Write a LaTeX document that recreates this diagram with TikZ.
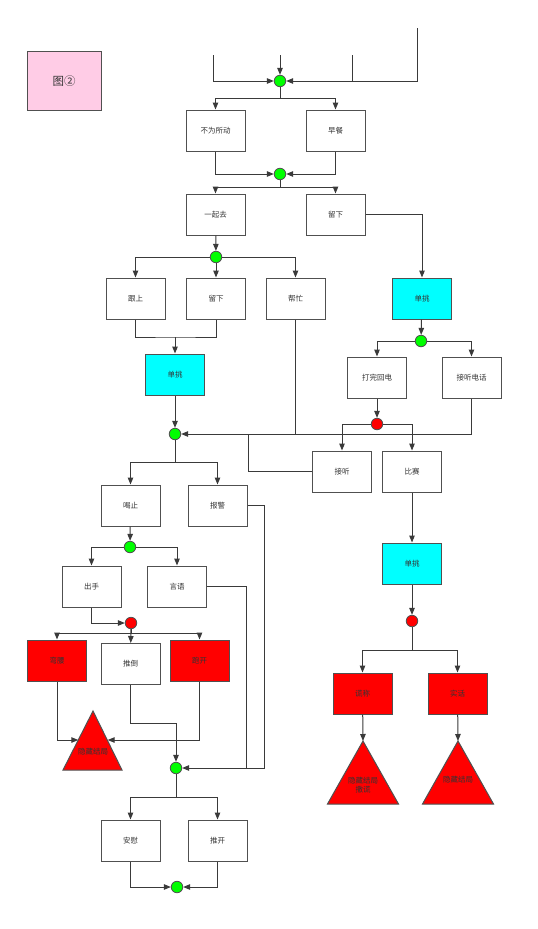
\documentclass[tikz,border=0pt]{standalone}
\usepackage{fontspec}
\newfontfamily\cjk{Noto Sans CJK SC}
\usetikzlibrary{arrows.meta}
\definecolor{cline}{HTML}{3A3A3A}
\definecolor{cbord}{HTML}{505050}
\definecolor{ctext}{HTML}{333333}
\definecolor{cpink}{HTML}{FFCCE6}
\definecolor{ccyan}{HTML}{00FFFF}
\definecolor{cgreen}{HTML}{00FF00}
\definecolor{cred}{HTML}{FF0000}
\begin{document}
\begin{tikzpicture}[x=1pt,y=-1pt,
  box/.style={draw=cbord, line width=1pt, fill=white, minimum width=59pt, minimum height=41pt, inner sep=0pt, font=\cjk\fontsize{7.5}{9}\selectfont, text=ctext},
  cyanbox/.style={box, fill=ccyan},
  redbox/.style={box, fill=cred},
  gdot/.style={circle, draw=cbord, fill=cgreen, minimum size=11.5pt, inner sep=0pt, line width=0.8pt},
  rdot/.style={gdot, fill=cred},
  conn/.style={draw=cline, line width=1pt},
  arr/.style={conn, -{Triangle[length=7pt,width=5.5pt]}},
  tri/.style={draw=cbord, line width=1pt, fill=cred},
  tritext/.style={font=\cjk\fontsize{7.5}{9}\selectfont, text=ctext, align=center, inner sep=0pt}
]
\useasboundingbox (0,0) rectangle (538,929);

% legend box
\node[draw=cbord, line width=1pt, fill=cpink, minimum width=74pt, minimum height=59pt, inner sep=0pt, font=\cjk\fontsize{11.5}{13}\selectfont, text=ctext] (fig) at (64,81) {图②};

% circles
\node[gdot] (g1) at (280,81) {};
\node[gdot] (g2) at (280,174) {};
\node[gdot] (g3) at (216,257) {};
\node[gdot] (g4) at (175,434) {};
\node[gdot] (g5) at (421,341) {};
\node[rdot] (q1) at (377,424) {};
\node[rdot] (q2) at (412,621) {};
\node[gdot] (g6) at (130,547) {};
\node[rdot] (q3) at (131,623) {};
\node[gdot] (g7) at (176,768) {};
\node[gdot] (g8) at (177,887) {};

% boxes
\node[box] (b1) at (215.5,130.5) {不为所动};
\node[box] (b2) at (335.5,130.5) {早餐};
\node[box] (b3) at (215.5,214.5) {一起去};
\node[box] (b4) at (335.5,214.5) {留下};
\node[box] (b5) at (135.5,298.5) {跟上};
\node[box] (b6) at (216,298.5) {留下};
\node[box] (b7) at (295.5,298.5) {帮忙};
\node[cyanbox] (c1) at (175,374.5) {单挑};
\node[cyanbox] (c2) at (422,298.5) {单挑};
\node[box] (b8) at (377,377.5) {打完回电};
\node[box] (b9) at (471.5,377.5) {接听电话};
\node[box] (b10) at (342,471.5) {接听};
\node[box] (b11) at (412,471.5) {比赛};
\node[cyanbox] (c3) at (412,563.5) {单挑};
\node[redbox] (r1) at (362.5,693.5) {谎称};
\node[redbox] (r2) at (457.5,693.5) {实话};
\node[box] (b12) at (130.5,505.5) {喝止};
\node[box] (b13) at (217.5,505.5) {报警};
\node[box] (b14) at (91.5,586.5) {出手};
\node[box] (b15) at (177,586.5) {言语};
\node[redbox] (r3) at (57,660.5) {弯腰};
\node[box] (b16) at (130.5,664) {推倒};
\node[redbox] (r4) at (199.5,660.5) {跑开};
\node[box] (b17) at (130.5,840.5) {安慰};
\node[box] (b18) at (217.5,840.5) {推开};

% triangles
\draw[tri] (93,711) -- (122,770) -- (63,770) -- cycle;
\node[tritext] (t1) at (93,752) {隐藏结局};
\coordinate (t1L) at (78.3,740);
\coordinate (t1R) at (107.7,740);
\draw[tri] (363,741) -- (398.5,804) -- (327.5,804) -- cycle;
\node[tritext] (t2) at (363,785) {隐藏结局\\撒谎};
\coordinate (t2a) at (363,741);
\draw[tri] (458,741) -- (493.5,804) -- (422.5,804) -- cycle;
\node[tritext] (t3) at (458,780) {隐藏结局};
\coordinate (t3a) at (458,741);

% top free ends
\coordinate (ta) at (213,55);
\coordinate (tb) at (280,55);
\coordinate (tc) at (352,55);
\coordinate (td) at (417,28);
\draw[arr] (ta) |- (g1);
\draw[arr] (tb) -- (g1);
\draw[conn] (tc) -- (tc|-g1);
\draw[arr] (td) |- (g1);

% g1 -> b1, b2
\draw[arr] (g1.south) -- ++(0,11) -| (b1);
\draw[arr] (g1.south) -- ++(0,11) -| (b2);
% b1, b2 -> g2
\draw[arr] (b1) |- (g2);
\draw[arr] (b2) |- (g2);
% g2 -> b3, b4
\draw[arr] (g2.south) -- ++(0,7) -| (b3);
\draw[arr] (g2.south) -- ++(0,7) -| (b4);
% b3 -> g3
\draw[arr] (b3) -- (g3);
% g3 -> b5, b6, b7
\draw[arr] (g3) -| (b5);
\draw[arr] (g3) -- (b6);
\draw[arr] (g3) -| (b7);
% b5, b6 -> c1
\draw[conn] (b5.south) |- (175,337) -| (b6.south);
\draw[arr] (175,337) -- (c1);
% c1 -> g4
\draw[arr] (c1) -- (g4);
% b4 -> c2
\draw[arr] (b4) -| (c2);
% c2 -> g5
\draw[arr] (c2) -- (g5);
% g5 -> b8, b9
\draw[arr] (g5) -| (b8);
\draw[arr] (g5) -| (b9);
% b8 -> q1
\draw[arr] (b8) -- (q1);
% q1 -> b10, b11
\draw[arr] (q1) -| (b10);
\draw[arr] (q1) -| (b11);
% b9 -> g4 ; b7 joins
\draw[arr] (b9) |- (g4);
\draw[conn] (b7) -- (b7|-g4);
% b10 -> line
\coordinate (j1) at (248,434);
\draw[conn] (b10) -| (j1);
% b11 -> c3 -> q2
\draw[arr] (b11) -- (c3);
\draw[arr] (c3) -- (q2);
% q2 -> r1, r2
\draw[arr] (q2.south) -- ++(0,23) -| (r1);
\draw[arr] (q2.south) -- ++(0,23) -| (r2);
% r1, r2 -> triangles
\draw[arr] (r1) -- (t2a);
\draw[arr] (r2) -- (t3a);
% g4 -> b12, b13
\draw[arr] (g4.south) -- ++(0,22) -| (b12);
\draw[arr] (g4.south) -- ++(0,22) -| (b13);
% b12 -> g6
\draw[arr] (b12) -- (g6);
% g6 -> b14, b15
\draw[arr] (g6) -| (b14);
\draw[arr] (g6) -| (b15);
% b14 -> q3
\draw[arr] (b14) |- (q3);
% q3 -> r3, b16, r4
\draw[arr] (q3.south) -- ++(0,4) -| (r3);
\draw[arr] (q3) -- (b16);
\draw[arr] (q3.south) -- ++(0,4) -| (r4);
% r3, r4 -> t1
\draw[arr] (r3) |- (t1L);
\draw[arr] (r4) |- (t1R);
% b16 -> g7
\draw[arr] (b16.south) -- ++(0,38) -| (g7);
% b15, b13 -> g7
\coordinate (j2) at (246,768);
\coordinate (j3) at (264,768);
\draw[conn] (b15) -| (j2);
\draw[arr] (b13) -| (j3) -- (g7);
% g7 -> b17, b18
\draw[arr] (g7.south) -- ++(0,23) -| (b17);
\draw[arr] (g7.south) -- ++(0,23) -| (b18);
% b17, b18 -> g8
\draw[arr] (b17) |- (g8);
\draw[arr] (b18) |- (g8);
\end{tikzpicture}
\end{document}
